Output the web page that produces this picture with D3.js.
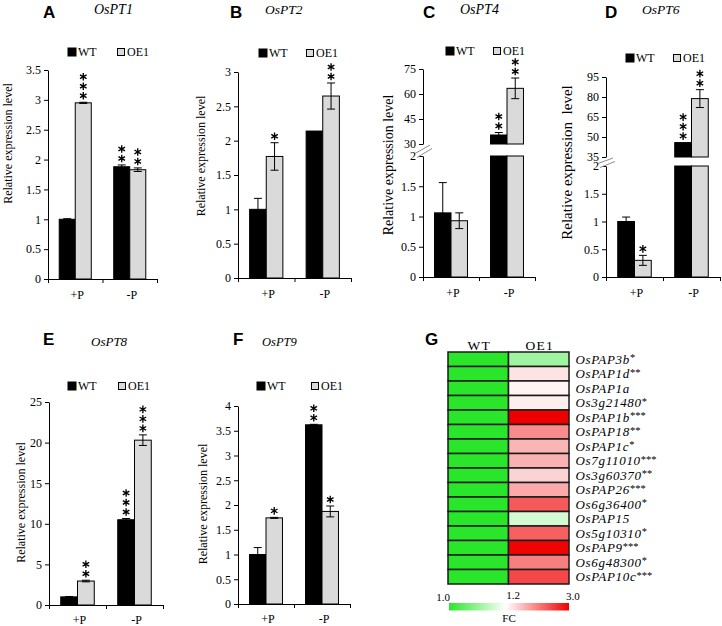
<!DOCTYPE html>
<html><head><meta charset="utf-8">
<script src="https://cdn.jsdelivr.net/npm/d3@7"></script>
<style>
body{margin:0;background:#fff;} svg{display:block;}
text{font-family:"Liberation Serif","Times New Roman",Times,serif;}
text.sans{font-family:"Liberation Sans",Arial,Helvetica,sans-serif;font-weight:bold;}
</style>
</head><body>
<svg id="chart" width="722" height="626"></svg>
<script>
// ---------------- DATA ----------------
const groups = ["+P", "-P"];
const seriesNames = ["WT", "OE1"];

// OsPT1
const pt1WT = [1.0, 1.88], pt1WTErr = [0.01, 0.03], pt1WTSig = ["", "**"];
const pt1OE = [2.95, 1.83], pt1OEErr = [0.01, 0.03], pt1OESig = ["***", "**"];
const pt1Ticks = [0, 0.5, 1, 1.5, 2, 2.5, 3, 3.5];
// OsPT2
const pt2WT = [1.0, 2.14], pt2WTErr = [0.16, 0], pt2WTSig = ["", ""];
const pt2OE = [1.77, 2.65], pt2OEErr = [0.2, 0.19], pt2OESig = ["*", "**"];
const pt2Ticks = [0, 0.5, 1, 1.5, 2, 2.5, 3];
// OsPT4 (broken axis)
const pt4WT = [1.06, 35.4], pt4WTErr = [0.5, 1.5], pt4WTSig = ["", "**"];
const pt4OE = [0.93, 63.4], pt4OEErr = [0.13, 6.2], pt4OESig = ["", "**"];
const pt4LowTicks = [0, 0.5, 1, 1.5, 2];
const pt4HighTicks = [30, 45, 60, 75];
// OsPT6 (broken axis)
const pt6WT = [1.0, 45.8], pt6WTErr = [0.08, 0], pt6WTSig = ["", "***"];
const pt6OE = [0.3, 78.8], pt6OEErr = [0.09, 6.7], pt6OESig = ["*", "**"];
const pt6LowTicks = [0, 0.5, 1, 1.5, 2];
const pt6HighTicks = [35, 50, 65, 80, 95];
// OsPT8
const pt8WT = [1.0, 10.5], pt8WTErr = [0.05, 0.15], pt8WTSig = ["", "***"];
const pt8OE = [2.95, 20.3], pt8OEErr = [0.1, 0.65], pt8OESig = ["**", "***"];
const pt8Ticks = [0, 5, 10, 15, 20, 25];
// OsPT9
const pt9WT = [1.0, 3.62], pt9WTErr = [0.14, 0.01], pt9WTSig = ["", "**"];
const pt9OE = [1.74, 1.87], pt9OEErr = [0.01, 0.11], pt9OESig = ["*", "*"];
const pt9Ticks = [0, 0.5, 1, 1.5, 2, 2.5, 3, 3.5, 4];

// Heatmap (G)
const genes = ["OsPAP3b", "OsPAP1d", "OsPAP1a", "Os3g21480", "OsPAP1b", "OsPAP18", "OsPAP1c",
  "Os7g11010", "Os3g60370", "OsPAP26", "Os6g36400", "OsPAP15", "Os5g10310", "OsPAP9", "Os6g48300", "OsPAP10c"];
const geneSig = ["*", "**", "", "*", "***", "**", "*", "***", "**", "***", "*", "", "*", "***", "*", "***"];
const fcWT = [1.0, 1.0, 1.0, 1.0, 1.0, 1.0, 1.0, 1.0, 1.0, 1.0, 1.0, 1.0, 1.0, 1.0, 1.0, 1.0];
const fcOE1 = [1.11, 1.39, 1.28, 1.31, 3.0, 2.01, 1.72, 1.75, 1.51, 1.80, 2.37, 1.16, 2.32, 2.98, 2.10, 2.49];
const fcTicks = [1.0, 1.2, 3.0];

// ---------------- DRAWING ----------------
const svg = d3.select("#chart");
const OE_FILL = "#dadada";
const fmt = d3.format("~g");
const star = d3.symbol().type(d3.symbolAsterisk).size(40);

function drawPanel(p) {
  const g = svg.append("g");
  const x0 = d3.scaleBand().domain(groups).range([p.left, p.right]);
  const x1 = d3.scaleBand().domain(seriesNames).range([0, x0.bandwidth()]).paddingOuter(0.7);
  const yLow = d3.scaleLinear().domain([p.lowTicks[0], p.lowTicks[p.lowTicks.length - 1]]).range([p.y0, p.lowTop]);
  const yHigh = p.highTicks ? d3.scaleLinear().domain([p.highTicks[0], p.highTicks[p.highTicks.length - 1]]).range([p.highBot, p.highTop]) : null;
  const lowMax = yLow.domain()[1];
  const yOf = v => (yHigh && v > lowMax) ? yHigh(v) : yLow(v);

  const styleAxis = sel => sel.attr("font-size", 12)
    .call(s => s.selectAll("path,line").attr("stroke", "#000"));
  g.append("g").attr("transform", `translate(${p.left},0)`)
    .call(d3.axisLeft(yLow).tickValues(p.lowTicks).tickSize(4).tickSizeOuter(0).tickPadding(3).tickFormat(fmt))
    .call(styleAxis);
  if (yHigh) {
    g.append("g").attr("transform", `translate(${p.left},0)`)
      .call(d3.axisLeft(yHigh).tickValues(p.highTicks).tickSize(4).tickSizeOuter(0).tickPadding(3).tickFormat(fmt))
      .call(styleAxis);
    const bx = p.left, lt = yLow.range()[1], hb = yHigh.range()[0];
    [[-8, lt - 2.5, 7, hb + 1], [-6, lt + 1.5, 9, hb + 4.5]].forEach(l => {
      g.append("line").attr("x1", bx + l[0]).attr("y1", l[1]).attr("x2", bx + l[2]).attr("y2", l[3])
        .attr("stroke", "#8c8c8c").attr("stroke-width", 1);
    });
  }
  // x axis
  g.append("line").attr("x1", p.left).attr("x2", p.right).attr("y1", p.y0 + 0.5).attr("y2", p.y0 + 0.5).attr("stroke", "#000");
  const bounds = groups.map(d => x0(d)).concat([x0(groups[groups.length - 1]) + x0.bandwidth()]);
  bounds.forEach(bx => g.append("line").attr("x1", bx + 0.5).attr("x2", bx + 0.5).attr("y1", p.y0).attr("y2", p.y0 + 4).attr("stroke", "#000"));
  groups.forEach(d => g.append("text").attr("x", x0(d) + x0.bandwidth() / 2 + 2).attr("y", p.xlabY)
    .attr("text-anchor", "middle").attr("font-size", 12).text(d));

  // bars
  const sdata = { WT: p.wt, OE1: p.oe };
  groups.forEach((grp, i) => {
    seriesNames.forEach(s => {
      const d = sdata[s];
      const v = d[0][i], e = d[1][i], sig = d[2][i];
      const bx = x0(grp) + x1(s), bw = x1.bandwidth();
      const fill = s === "WT" ? "#000" : OE_FILL;
      if (yHigh && v > lowMax) {
        g.append("rect").attr("x", bx).attr("y", yLow(lowMax)).attr("width", bw).attr("height", p.y0 - yLow(lowMax))
          .attr("fill", fill).attr("stroke", "#000").attr("stroke-width", 1);
        g.append("rect").attr("x", bx).attr("y", yHigh(v)).attr("width", bw).attr("height", yHigh.range()[0] - yHigh(v))
          .attr("fill", fill).attr("stroke", "#000").attr("stroke-width", 1);
      } else {
        g.append("rect").attr("x", bx).attr("y", yLow(v)).attr("width", bw).attr("height", p.y0 - yLow(v))
          .attr("fill", fill).attr("stroke", "#000").attr("stroke-width", 1);
      }
      const cx = bx + bw / 2;
      if (e > 0) {
        const yt = yOf(v + e), yb = yOf(v - e);
        g.append("line").attr("x1", cx).attr("x2", cx).attr("y1", yt).attr("y2", yb).attr("stroke", "#000");
        [yt, yb].forEach(yy => g.append("line").attr("x1", cx - 4).attr("x2", cx + 4).attr("y1", yy).attr("y2", yy).attr("stroke", "#000"));
      }
      const top = yOf(v + e);
      for (let k = 0; k < sig.length; k++) {
        const cy = top - 6.5 - k * 9.5;
        g.append("path").attr("d", star).attr("transform", `translate(${cx},${cy})`)
          .attr("fill", "none").attr("stroke", "#000").attr("stroke-width", 1.35);
      }
    });
  });

  // legend
  const L = p.legend;
  g.append("rect").attr("x", L.x1).attr("y", L.y).attr("width", 8).attr("height", 8).attr("fill", "#000").attr("stroke", "#000");
  g.append("text").attr("x", L.x1 + 10).attr("y", L.y + 8).attr("font-size", 12).text("WT");
  g.append("rect").attr("x", L.x2 + 0.5).attr("y", L.y + 0.5).attr("width", 7).attr("height", 7).attr("fill", OE_FILL).attr("stroke", "#000");
  g.append("text").attr("x", L.x2 + 10).attr("y", L.y + 8).attr("font-size", 12).text("OE1");

  g.append("text").attr("class", "sans").attr("x", p.letter[0]).attr("y", p.letter[1]).attr("font-size", 17).text(p.letter[2]);
  g.append("text").attr("x", p.title[0]).attr("y", p.title[1]).attr("font-style", "italic")
    .attr("font-size", p.title[3]).text(p.title[2]);
  g.append("text").attr("transform", `translate(${p.ylab[0]},${p.ylab[1]}) rotate(-90)`).attr("text-anchor", "middle")
    .attr("font-size", p.ylab[2]).style("white-space", "pre").text(p.ylab[3]);
}

const YL = "Relative expression level";
drawPanel({ left: 48, right: 157, y0: 279, lowTop: 70, lowTicks: pt1Ticks, xlabY: 299,
  wt: [pt1WT, pt1WTErr, pt1WTSig], oe: [pt1OE, pt1OEErr, pt1OESig],
  legend: { x1: 68, x2: 117, y: 48 }, letter: [43, 18, "A"], title: [94, 14, "OsPT1", 14], ylab: [12, 143.5, 12, YL] });
drawPanel({ left: 238, right: 351, y0: 278, lowTop: 72, lowTicks: pt2Ticks, xlabY: 298,
  wt: [pt2WT, pt2WTErr, pt2WTSig], oe: [pt2OE, pt2OEErr, pt2OESig],
  legend: { x1: 259, x2: 306, y: 49 }, letter: [230, 18, "B"], title: [265, 14, "OsPT2", 13.5], ylab: [205, 156, 12, YL] });
drawPanel({ left: 423, right: 535, y0: 277, lowTop: 156, lowTicks: pt4LowTicks, xlabY: 297,
  highBot: 144, highTop: 69, highTicks: pt4HighTicks,
  wt: [pt4WT, pt4WTErr, pt4WTSig], oe: [pt4OE, pt4OEErr, pt4OESig],
  legend: { x1: 446, x2: 493, y: 47 }, letter: [423, 18, "C"], title: [460, 14, "OsPT4", 14], ylab: [393, 165, 14, YL] });
drawPanel({ left: 606, right: 720, y0: 277, lowTop: 166, lowTicks: pt6LowTicks, xlabY: 297,
  highBot: 157, highTop: 77, highTicks: pt6HighTicks,
  wt: [pt6WT, pt6WTErr, pt6WTSig], oe: [pt6OE, pt6OEErr, pt6OESig],
  legend: { x1: 626, x2: 673, y: 54 }, letter: [605, 18, "D"], title: [642, 14, "OsPT6", 13.5], ylab: [572, 162.5, 15, "Relative expression  level"] });
drawPanel({ left: 49, right: 163, y0: 605, lowTop: 402, lowTicks: pt8Ticks, xlabY: 624,
  wt: [pt8WT, pt8WTErr, pt8WTSig], oe: [pt8OE, pt8OEErr, pt8OESig],
  legend: { x1: 68, x2: 118, y: 382 }, letter: [43, 345, "E"], title: [91, 346, "OsPT8", 13], ylab: [25, 502.5, 12, YL] });
drawPanel({ left: 238, right: 350, y0: 604, lowTop: 406, lowTicks: pt9Ticks, xlabY: 623,
  wt: [pt9WT, pt9WTErr, pt9WTSig], oe: [pt9OE, pt9OEErr, pt9OESig],
  legend: { x1: 257, x2: 311, y: 382 }, letter: [233, 345, "F"], title: [262, 346, "OsPT9", 12.5], ylab: [207, 504, 12, YL] });

// ---------------- HEATMAP G ----------------
const GREEN = "#2ae62a", RED = "#ef0000";
const color = d3.scaleLinear().domain(fcTicks).range([GREEN, "#ffffff", RED]).interpolate(d3.interpolateRgb);
const hg = svg.append("g");
const hx = d3.scaleBand().domain(seriesNames).range([448, 569]);
const hy = d3.scaleBand().domain(genes).range([352, 584]);
const fcBySeries = { WT: fcWT, OE1: fcOE1 };
genes.forEach((gene, i) => {
  seriesNames.forEach(s => {
    hg.append("rect").attr("x", hx(s)).attr("y", hy(gene)).attr("width", hx.bandwidth()).attr("height", hy.bandwidth())
      .attr("fill", color(fcBySeries[s][i])).attr("stroke", "#1a1a1a").attr("stroke-width", 1.5);
  });
  const t = hg.append("text").attr("x", 575.5).attr("y", hy(gene) + hy.bandwidth() / 2 + 4.5)
    .attr("font-size", 13).attr("font-style", "italic").attr("letter-spacing", 0.7);
  t.append("tspan").text(gene);
  if (geneSig[i]) t.append("tspan").attr("font-style", "normal").attr("font-size", 10.5).attr("dy", -2.5).attr("letter-spacing", 0).text(geneSig[i]);
});
seriesNames.forEach(s => hg.append("text").attr("x", hx(s) + hx.bandwidth() / 2 + 1).attr("y", 349.5).attr("text-anchor", "middle")
  .attr("font-size", 13.5).attr("letter-spacing", 1.2).text(s));
hg.append("text").attr("class", "sans").attr("x", 425).attr("y", 345).attr("font-size", 17).text("G");

// colour bar
const pos = d3.scaleLinear().domain(fcTicks).range([449, 506, 569]);
const grad = svg.append("defs").append("linearGradient").attr("id", "fcgrad").attr("x1", "0%").attr("x2", "100%");
fcTicks.forEach(v => grad.append("stop").attr("offset", (pos(v) - pos.range()[0]) / (pos.range()[2] - pos.range()[0]))
  .attr("stop-color", color(v)));
hg.append("rect").attr("x", pos.range()[0]).attr("y", 603).attr("width", pos.range()[2] - pos.range()[0]).attr("height", 7.5)
  .attr("fill", "url(#fcgrad)");
const lblAnchor = ["end", "middle", "start"], lblDx = [1, 7, -3], lblY = [600.5, 599, 600];
fcTicks.forEach((v, i) => hg.append("text").attr("x", pos(v) + lblDx[i]).attr("y", lblY[i]).attr("text-anchor", lblAnchor[i])
  .attr("font-size", 11).text(v.toFixed(1)));
hg.append("text").attr("x", 509).attr("y", 622).attr("text-anchor", "middle").attr("font-size", 11).text("FC");
</script>
</body></html>
